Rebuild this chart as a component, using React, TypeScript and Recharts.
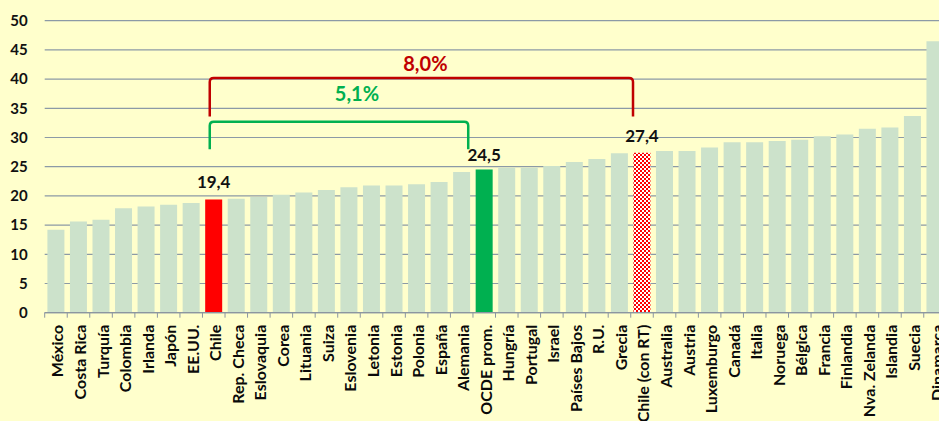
import { Bar, BarChart, CartesianGrid, Cell, LabelList, ReferenceLine, XAxis, YAxis } from "recharts"

const countries = [
  "México", "Costa Rica", "Turquía", "Colombia", "Irlanda", "Japón", "EE.UU.", "Chile",
  "Rep. Checa", "Eslovaquia", "Corea", "Lituania", "Suiza", "Eslovenia", "Letonia", "Estonia",
  "Polonia", "España", "Alemania", "OCDE prom.", "Hungría", "Portugal", "Israel", "Países Bajos",
  "R.U.", "Grecia", "Chile (con RT)", "Australia", "Austria", "Luxemburgo", "Canadá", "Italia",
  "Noruega", "Bélgica", "Francia", "Finlandia", "Nva. Zelanda", "Islandia", "Suecia", "Dinamarca",
];

const values = [
  14.2, 15.6, 15.9, 17.9, 18.2, 18.5, 18.8, 19.4,
  19.5, 19.8, 20.2, 20.6, 21.0, 21.5, 21.8, 21.8,
  22.0, 22.4, 24.1, 24.5, 24.8, 24.8, 25.1, 25.8,
  26.3, 27.3, 27.4, 27.7, 27.7, 28.3, 29.2, 29.2,
  29.4, 29.6, 30.2, 30.5, 31.5, 31.7, 33.7, 46.5,
];

const yTicks = [0, 5, 10, 15, 20, 25, 30, 35, 40, 45, 50];

// bars that get their own colour and a value label
const highlighted: Record<string, string> = {
  "Chile": "#FF0000",
  "OCDE prom.": "#00B050",
  "Chile (con RT)": "url(#checkRed)",
};

// gap brackets: from one bar to another, y range of the bracket
const brackets = [
  { from: "Chile", to: "Chile (con RT)", top: 40.2, bottom: 33.6, color: "#C00000", dxL: -4, dxR: -9, tx: 4, ty: -7 },
  { from: "Chile", to: "OCDE prom.", top: 32.7, bottom: 28.0, color: "#00B050", dxL: -4, dxR: -16, tx: 18, ty: -21 },
];

const data = countries.map((name, i) => ({ name, value: values[i] }));

const valueOf = (name: string) => values[countries.indexOf(name)];
const fmt = (v: number) => v.toFixed(1).replace(".", ",");

const FONT = "Lato, 'Open Sans', sans-serif";

const CountryTick = (props: any) => {
  const { x, y, payload } = props;
  const off = payload.offset ?? 11.27;
  return (
    <g>
      <line x1={x - off} y1={y} x2={x - off} y2={y + 5} stroke="#8C96A0" strokeWidth={1} />
      <text
        x={x + 1}
        y={y + 12}
        transform={`rotate(-90, ${x + 1}, ${y + 12})`}
        textAnchor="end"
        dominantBaseline="central"
        fontSize={16}
        fontWeight={700}
        fontFamily={FONT}
        fill="#0A0A0A"
      >
        {payload.value}
      </text>
    </g>
  );
};

const bracketShape = (b: typeof brackets[number]) => (props: any) => {
  const { x1, y1, x2, y2 } = props;
  if (x1 == null || y1 == null) return null;
  const l = x1 + b.dxL;
  const r = x2 + b.dxR;
  const top = y2;
  const bot = y1;
  const rad = 4;
  const d = `M${l},${bot} L${l},${top + rad} Q${l},${top} ${l + rad},${top} L${r - rad},${top} Q${r},${top} ${r},${top + rad} L${r},${bot}`;
  return (
    <g>
      <path d={d} fill="none" stroke={b.color} strokeWidth={2.5} />
      <text
        x={(l + r) / 2 + b.tx}
        y={top + b.ty}
        textAnchor="middle"
        fontSize={20}
        fontWeight={700}
        fontFamily={FONT}
        fill={b.color}
      >
        {fmt(valueOf(b.to) - valueOf(b.from))}%
      </text>
    </g>
  );
};

const ValueLabel = (props: any) => {
  const { x, y, width, index } = props;
  const name = countries[index];
  if (!highlighted[name]) return null;
  const gap = name === "OCDE prom." ? 9 : 11;
  return (
    <text
      x={x + width / 2}
      y={y - gap}
      textAnchor="middle"
      fontSize={17}
      fontWeight={700}
      fontFamily={FONT}
      fill="#111"
    >
      {fmt(values[index])}
    </text>
  );
};

export default function App() {
  return (
    <div style={{ position: "fixed", left: 0, top: 0, width: 939, height: 421, overflow: "hidden", background: "#FFFFCC" }}>
      <BarChart
        width={960}
        height={421}
        data={data}
        margin={{ top: 20.7, right: 13.7, bottom: 0, left: 0 }}
        barCategoryGap="12%"
        style={{ fontFamily: FONT }}
      >
        <defs>
          <pattern id="checkRed" width={4} height={4} patternUnits="userSpaceOnUse">
            <rect width={4} height={4} fill="#FF0000" />
            <rect width={2} height={2} fill="#FFFFFF" />
            <rect x={2} y={2} width={2} height={2} fill="#FFFFFF" />
          </pattern>
        </defs>
        <CartesianGrid vertical={false} stroke="#8C9AA6" strokeWidth={1.2} />
        <XAxis
          dataKey="name"
          interval={0}
          height={108.3}
          tickLine={false}
          tickSize={0}
          tickMargin={0}
          axisLine={{ stroke: "#8C96A0", strokeWidth: 1.2 }}
          tick={<CountryTick />}
        />
        <YAxis
          width={44.7}
          domain={[0, 50]}
          ticks={yTicks}
          axisLine={false}
          tickLine={false}
          tickSize={0}
          tickMargin={17}
          tick={{ fontSize: 15, fontWeight: 700, fill: "#111", fontFamily: FONT }}
        />
        <Bar dataKey="value" isAnimationActive={false}>
          {data.map((d) => (
            <Cell key={d.name} fill={highlighted[d.name] ?? "#CCE2CB"} />
          ))}
          <LabelList dataKey="value" content={<ValueLabel />} />
        </Bar>
        {brackets.map((b) => (
          <ReferenceLine
            key={b.to}
            segment={[{ x: b.from, y: b.bottom }, { x: b.to, y: b.top }]}
            ifOverflow="visible"
            shape={bracketShape(b)}
          />
        ))}
      </BarChart>
    </div>
  );
}
